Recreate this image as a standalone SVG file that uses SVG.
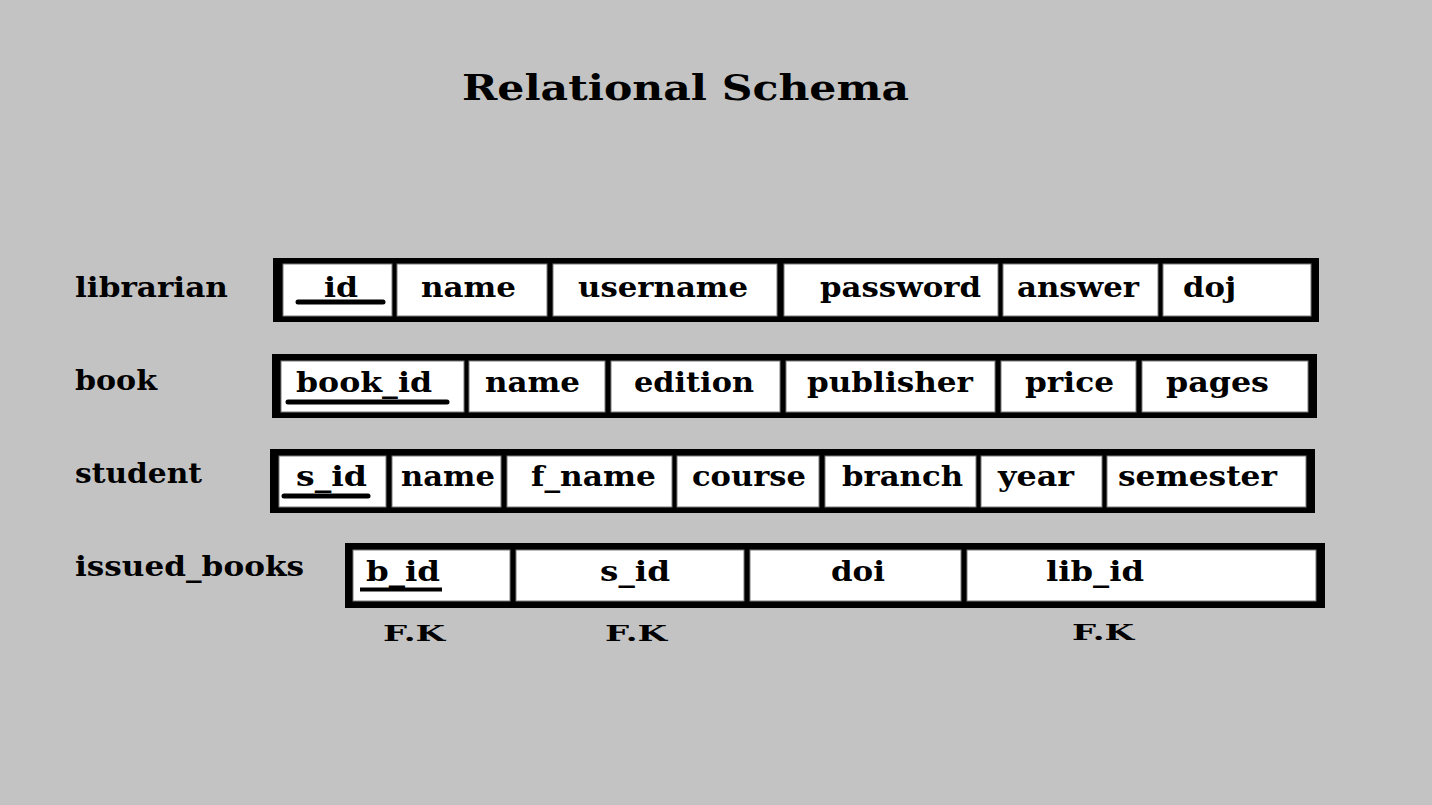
<svg xmlns="http://www.w3.org/2000/svg" width="1432" height="805" viewBox="0 0 1432 805">
<style>
  .t{font-family:"DejaVu Serif","Liberation Serif",serif;font-weight:bold;fill:#000;}
  .c{font-size:27px;}
  .title{font-size:36px;}
  .fk{font-size:23px;}
  .outer{fill:#000;}
  .cell{fill:#fff;stroke:#7a7a7a;stroke-width:1;}
  .pk{stroke:#000;stroke-width:5;stroke-linecap:round;fill:none;}
</style>
<rect x="0" y="0" width="1432" height="805" fill="#c3c3c3"/>
<text id="title" class="t title" x="462" y="100" textLength="447" lengthAdjust="spacingAndGlyphs">Relational Schema</text>

<g id="librarian">
  <text class="t c" x="75" y="297" textLength="153" lengthAdjust="spacingAndGlyphs">librarian</text>
  <rect class="outer" x="273" y="258" width="1046" height="64"/>
  <rect class="cell" x="283" y="264" width="109" height="52"/>
  <rect class="cell" x="397" y="264" width="150" height="52"/>
  <rect class="cell" x="553" y="264" width="224" height="52"/>
  <rect class="cell" x="784" y="264" width="214" height="52"/>
  <rect class="cell" x="1003" y="264" width="155" height="52"/>
  <rect class="cell" x="1163" y="264" width="148" height="52"/>
  <text class="t c" x="324" y="297" textLength="34" lengthAdjust="spacingAndGlyphs">id</text>
  <line class="pk" x1="298" y1="302" x2="383" y2="302"/>
  <text class="t c" x="421" y="297" textLength="95" lengthAdjust="spacingAndGlyphs">name</text>
  <text class="t c" x="578" y="297" textLength="170" lengthAdjust="spacingAndGlyphs">username</text>
  <text class="t c" x="820" y="297" textLength="161" lengthAdjust="spacingAndGlyphs">password</text>
  <text class="t c" x="1017" y="297" textLength="122" lengthAdjust="spacingAndGlyphs">answer</text>
  <text class="t c" x="1183" y="297" textLength="53" lengthAdjust="spacingAndGlyphs">doj</text>
</g>

<g id="book">
  <text class="t c" x="75" y="390" textLength="82" lengthAdjust="spacingAndGlyphs">book</text>
  <rect class="outer" x="272" y="354" width="1045" height="64"/>
  <rect class="cell" x="281" y="361" width="183" height="51"/>
  <rect class="cell" x="469" y="361" width="136" height="51"/>
  <rect class="cell" x="611" y="361" width="169" height="51"/>
  <rect class="cell" x="786" y="361" width="209" height="51"/>
  <rect class="cell" x="1001" y="361" width="135" height="51"/>
  <rect class="cell" x="1142" y="361" width="166" height="51"/>
  <text class="t c" x="296" y="392" textLength="136" lengthAdjust="spacingAndGlyphs">book_id</text>
  <line class="pk" x1="288" y1="402" x2="447" y2="402"/>
  <text class="t c" x="485" y="392" textLength="95" lengthAdjust="spacingAndGlyphs">name</text>
  <text class="t c" x="634" y="392" textLength="120" lengthAdjust="spacingAndGlyphs">edition</text>
  <text class="t c" x="807" y="392" textLength="166" lengthAdjust="spacingAndGlyphs">publisher</text>
  <text class="t c" x="1025" y="392" textLength="89" lengthAdjust="spacingAndGlyphs">price</text>
  <text class="t c" x="1166" y="392" textLength="103" lengthAdjust="spacingAndGlyphs">pages</text>
</g>

<g id="student">
  <text class="t c" x="75" y="483" textLength="127" lengthAdjust="spacingAndGlyphs">student</text>
  <rect class="outer" x="270" y="449" width="1045" height="64"/>
  <rect class="cell" x="279" y="456" width="107" height="51"/>
  <rect class="cell" x="392" y="456" width="109" height="51"/>
  <rect class="cell" x="507" y="456" width="165" height="51"/>
  <rect class="cell" x="677" y="456" width="142" height="51"/>
  <rect class="cell" x="825" y="456" width="151" height="51"/>
  <rect class="cell" x="981" y="456" width="121" height="51"/>
  <rect class="cell" x="1107" y="456" width="199" height="51"/>
  <text class="t c" x="296" y="486" textLength="71" lengthAdjust="spacingAndGlyphs">s_id</text>
  <line class="pk" x1="284" y1="496" x2="368" y2="496"/>
  <text class="t c" x="401" y="486" textLength="94" lengthAdjust="spacingAndGlyphs">name</text>
  <text class="t c" x="531" y="486" textLength="125" lengthAdjust="spacingAndGlyphs">f_name</text>
  <text class="t c" x="692" y="486" textLength="114" lengthAdjust="spacingAndGlyphs">course</text>
  <text class="t c" x="842" y="486" textLength="121" lengthAdjust="spacingAndGlyphs">branch</text>
  <text class="t c" x="998" y="486" textLength="76" lengthAdjust="spacingAndGlyphs">year</text>
  <text class="t c" x="1118" y="486" textLength="159" lengthAdjust="spacingAndGlyphs">semester</text>
</g>

<g id="issued_books">
  <text class="t c" x="75" y="576" textLength="229" lengthAdjust="spacingAndGlyphs">issued_books</text>
  <rect class="outer" x="345" y="543" width="980" height="65"/>
  <rect class="cell" x="353" y="550" width="157" height="51"/>
  <rect class="cell" x="516" y="550" width="228" height="51"/>
  <rect class="cell" x="750" y="550" width="211" height="51"/>
  <rect class="cell" x="967" y="550" width="349" height="51"/>
  <text class="t c" x="366" y="581" textLength="74" lengthAdjust="spacingAndGlyphs">b_id</text>
  <line x1="360" y1="589.5" x2="442" y2="589.5" stroke="#000" stroke-width="4"/>
  <text class="t c" x="600" y="581" textLength="70" lengthAdjust="spacingAndGlyphs">s_id</text>
  <text class="t c" x="831" y="581" textLength="54" lengthAdjust="spacingAndGlyphs">doi</text>
  <text class="t c" x="1046" y="581" textLength="98" lengthAdjust="spacingAndGlyphs">lib_id</text>
</g>

<g id="fk-labels">
  <text class="t fk" x="383" y="641" textLength="62" lengthAdjust="spacingAndGlyphs">F.K</text>
  <text class="t fk" x="605" y="641" textLength="62" lengthAdjust="spacingAndGlyphs">F.K</text>
  <text class="t fk" x="1072" y="640" textLength="62" lengthAdjust="spacingAndGlyphs">F.K</text>
</g>

<g id="connectors"></g>
</svg>
